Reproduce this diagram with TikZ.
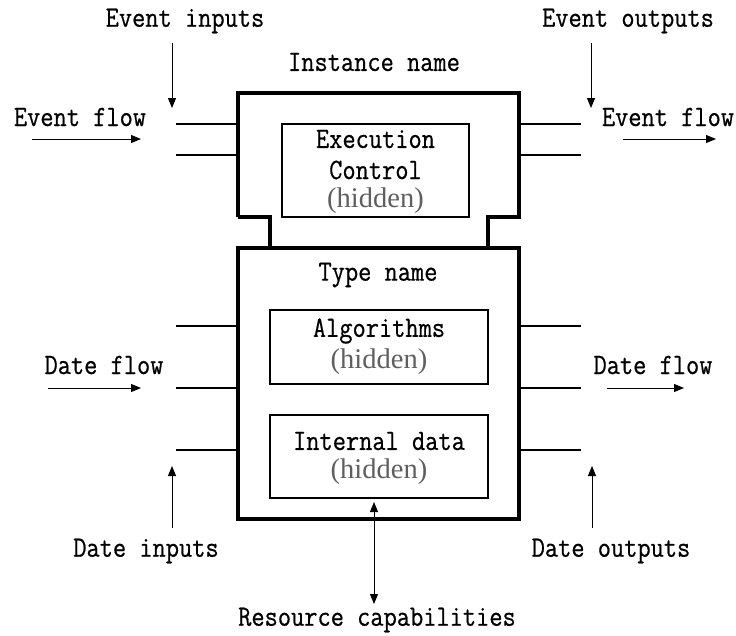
\documentclass[tikz,border=0pt]{standalone}
\usepackage{fontspec}
\setmainfont{Latin Modern Mono}[FakeStretch=0.87,FakeBold=0.6]
\newfontfamily\hidfont{Liberation Serif}
\usetikzlibrary{arrows.meta}
\definecolor{hidgray}{RGB}{95,95,95}
\tikzset{
  lbl/.style={inner sep=0pt, font=\fontsize{29.5}{30}\selectfont},
  hid/.style={inner sep=0pt, font=\hidfont\fontsize{28.5}{30}\selectfont, text=hidgray},
  outerline/.style={line width=4pt, line join=miter},
  innerbox/.style={draw, line width=2pt},
  port/.style={line width=1.4pt},
  flow/.style={line width=1pt, -{Triangle[length=10pt,width=8pt]}},
  both/.style={line width=1pt, {Triangle[length=10pt,width=8pt]}-{Triangle[length=10pt,width=8pt]}}
}
\begin{document}
\begin{tikzpicture}[x=1pt,y=-1pt]
\useasboundingbox[fill=white] (0,0) rectangle (736,635);
% outer shapes
\draw[outerline] (238,217) -- (238,93) -- (519,93) -- (519,217) -- (488,217) -- (488,248);
\draw[outerline] (238,217) -- (270,217) -- (270,248);
\node[draw, outerline, minimum width=281pt, minimum height=271pt, inner sep=0pt] (typebox) at (378.5,383.5) {};
% inner boxes
\node[innerbox, minimum width=187pt, minimum height=93pt, inner sep=0pt] (exec) at (375.5,170) {};
\node[innerbox, minimum width=218pt, minimum height=74pt, inner sep=0pt] (algo) at (379,347) {};
\node[innerbox, minimum width=218pt, minimum height=83pt, inner sep=0pt] (intd) at (379,456.5) {};
% texts
\node[lbl] (instname) at (374,62) {Instance name};
\node[lbl] (exec1) at (375.5,139) {Execution};
\node[lbl] (exec2) at (375.5,170) {Control};
\node[hid] (exech) at (375.5,201) {(hidden)};
\node[lbl] (typename) at (378,275) {Type name};
\node[lbl] (algot) at (379,331) {Algorithms};
\node[hid] (algoh) at (379,362) {(hidden)};
\node[lbl] (intdt) at (379,441) {Internal data};
\node[hid] (intdh) at (379,472) {(hidden)};
% ports
\foreach \y/\n in {124/ea,155/eb,326/da,388/db,450/dc}{
  \coordinate (L\n o) at (176,\y);
  \coordinate (L\n i) at (238,\y);
  \coordinate (R\n o) at (581,\y);
  \coordinate (R\n i) at (519,\y);
  \draw[port] (L\n o) -- (L\n i);
  \draw[port] (R\n i) -- (R\n o);
}
% labels
\node[lbl] (evin) at (185,21) {Event inputs};
\node[lbl] (evout) at (628,21) {Event outputs};
\node[lbl] (evflowl) at (80,117) {Event flow};
\node[lbl] (evflowr) at (668,117) {Event flow};
\node[lbl] (dflowl) at (104,365) {Date flow};
\node[lbl] (dflowr) at (653,365) {Date flow};
\node[lbl] (din) at (146,551) {Date inputs};
\node[lbl] (dout) at (611,551) {Date outputs};
\node[lbl] (res) at (377,620) {Resource capabilities};
% arrows
\coordinate (a1s) at (172,43); \coordinate (a1e) at (172,108);
\coordinate (a2s) at (591,43); \coordinate (a2e) at (591,108);
\coordinate (a3s) at (32,139); \coordinate (a3e) at (141,139);
\coordinate (a4s) at (623,139); \coordinate (a4e) at (716,139);
\coordinate (a5s) at (48,388); \coordinate (a5e) at (141,388);
\coordinate (a6s) at (607,388); \coordinate (a6e) at (684,388);
\coordinate (a7s) at (172,528); \coordinate (a7e) at (172,466);
\coordinate (a8s) at (592,528); \coordinate (a8e) at (592,466);
\coordinate (rs) at (374,502); \coordinate (re) at (374,604);
\draw[flow] (a1s) -- (a1e);
\draw[flow] (a2s) -- (a2e);
\draw[flow] (a3s) -- (a3e);
\draw[flow] (a4s) -- (a4e);
\draw[flow] (a5s) -- (a5e);
\draw[flow] (a6s) -- (a6e);
\draw[flow] (a7s) -- (a7e);
\draw[flow] (a8s) -- (a8e);
\draw[both] (rs) -- (re);
\end{tikzpicture}
\end{document}
